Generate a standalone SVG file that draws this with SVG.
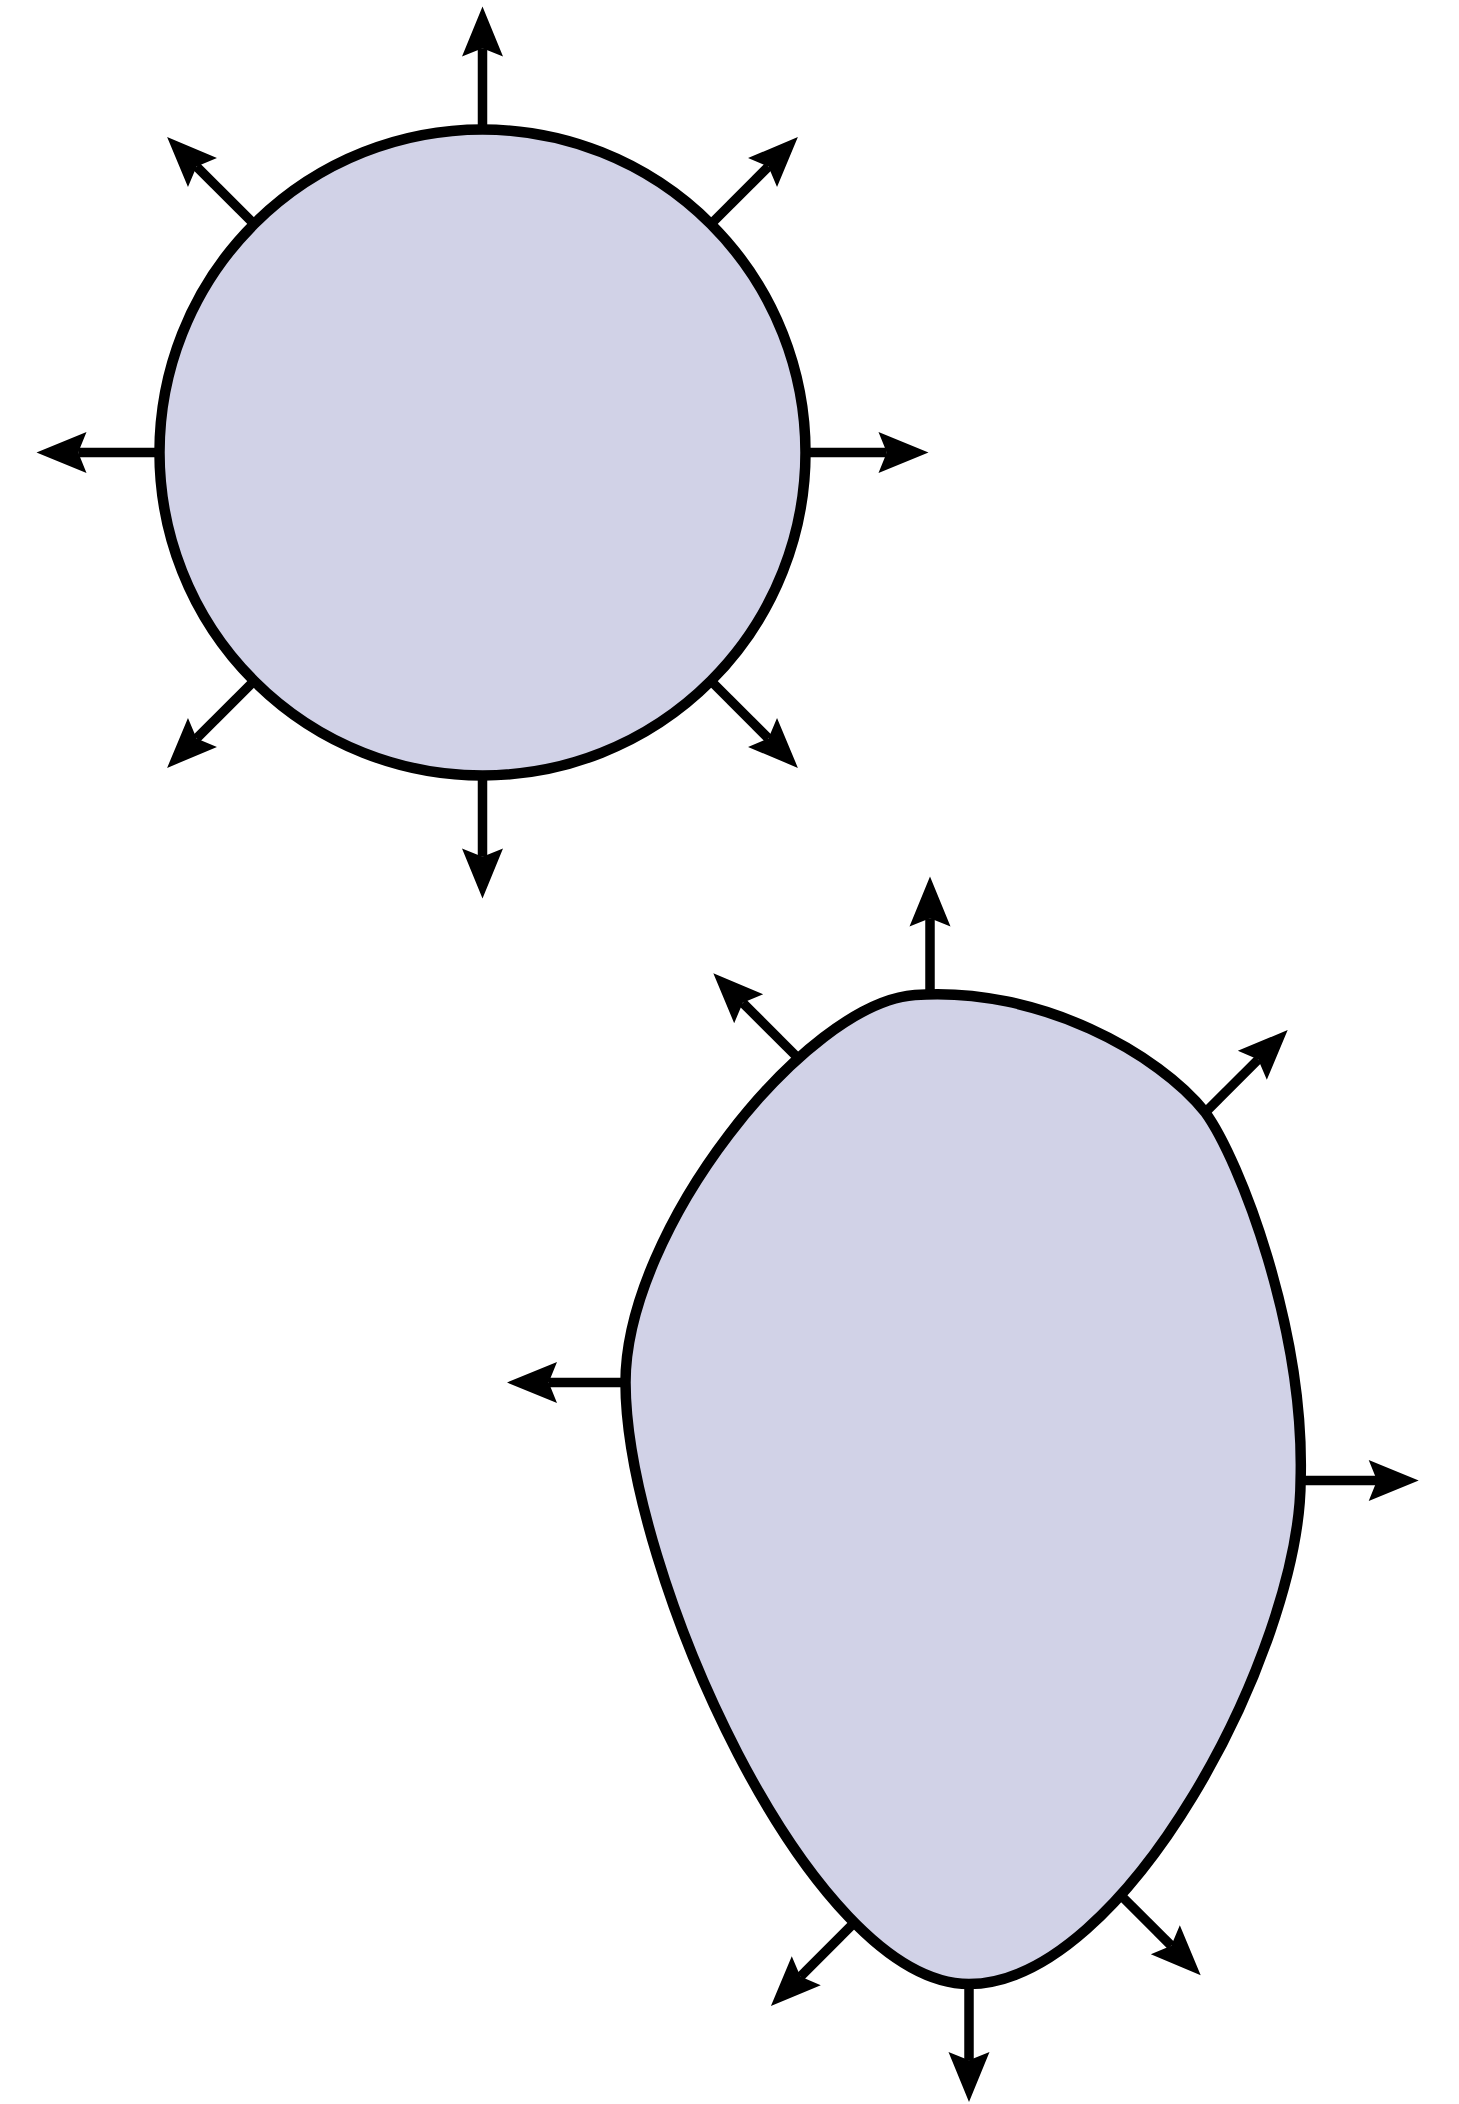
<svg xmlns="http://www.w3.org/2000/svg" width="1459" height="2104" viewBox="0 0 1459 2104">
<style>
.shape{fill:#d1d2e7;stroke:#000;stroke-width:10.5}
.arr{stroke:#000;stroke-width:9.5;fill:none;marker-end:url(#ah)}
</style>
<defs>
<marker id="ah" markerUnits="userSpaceOnUse" markerWidth="50" markerHeight="41" refX="8.3" refY="20.5" orient="auto" overflow="visible">
<path d="M50,20.5 L0,0 L8.3,20.5 L0,41 Z" fill="#000"/>
</marker>
</defs>
<g id="circle-node">
<circle class="shape" cx="482.5" cy="452.5" r="323"/>
</g>
<g id="blob-node">
<path class="shape" d="M625.5,1382.5 C625.5,1230 805,1003 915,995 C1040,986 1160,1055 1205,1112 C1240,1160 1305,1330 1300.6,1480.5 C1300,1650 1125,1984 969,1984 C810,1984 626,1570 625.5,1382.5 Z"/>
</g>
<g id="connectors">
<line class="arr" x1="482.5" y1="129" x2="482.5" y2="48.2"/>
<line class="arr" x1="482.5" y1="776" x2="482.5" y2="856.8"/>
<line class="arr" x1="806" y1="452.5" x2="886.8" y2="452.5"/>
<line class="arr" x1="159" y1="452.5" x2="78.2" y2="452.5"/>
<line class="arr" x1="711.25" y1="223.75" x2="768.4" y2="166.6"/>
<line class="arr" x1="253.75" y1="223.75" x2="196.6" y2="166.6"/>
<line class="arr" x1="711.25" y1="681.25" x2="768.4" y2="738.4"/>
<line class="arr" x1="253.75" y1="681.25" x2="196.6" y2="738.4"/>
<line class="arr" x1="930" y1="994" x2="930" y2="918.2"/>
<line class="arr" x1="625.5" y1="1382.5" x2="548.7" y2="1382.5"/>
<line class="arr" x1="1300.6" y1="1480.5" x2="1377" y2="1480.5"/>
<line class="arr" x1="969" y1="1984" x2="969" y2="2060.3"/>
<line class="arr" x1="796" y1="1056" x2="742.8" y2="1002.8"/>
<line class="arr" x1="1205" y1="1112.7" x2="1258.2" y2="1059.5"/>
<line class="arr" x1="1118" y1="1892.5" x2="1171.2" y2="1945.7"/>
<line class="arr" x1="853.6" y1="1923.4" x2="800.4" y2="1976.6"/>
</g>
</svg>
